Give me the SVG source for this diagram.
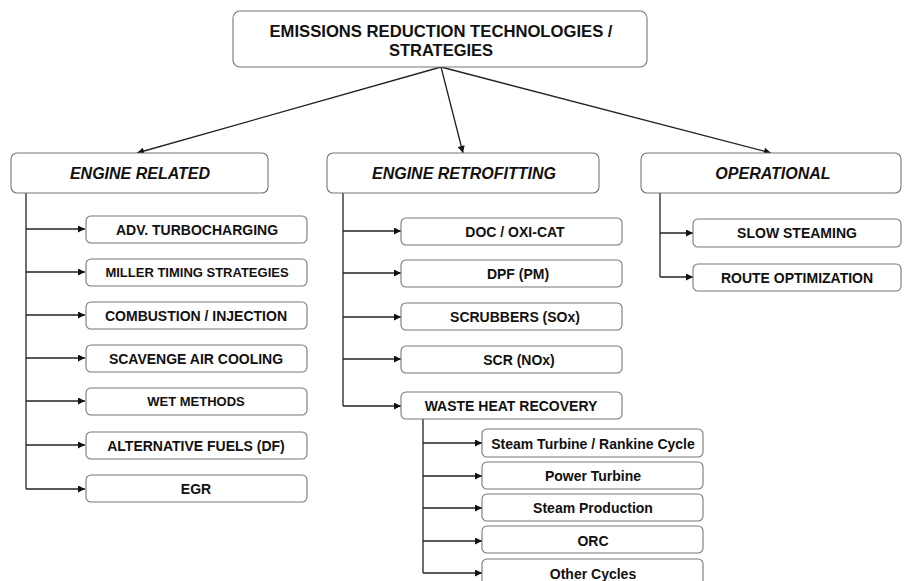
<svg xmlns="http://www.w3.org/2000/svg" width="904" height="581" viewBox="0 0 904 581">
<defs>
<marker id="ah" viewBox="0 0 10 10" refX="10" refY="5" markerWidth="8" markerHeight="7" markerUnits="userSpaceOnUse" orient="auto">
<path d="M0,0 L10,5 L0,10 z" fill="#111"/>
</marker>
</defs>
<style>
.box{fill:#fff;stroke:#777;stroke-width:1.1}
.t{font-family:"Liberation Sans",Arial,sans-serif;font-weight:bold;fill:#111;text-anchor:middle;dominant-baseline:central}
.h{font-size:16px;font-style:italic}
.s{font-size:14px}
.s13{font-size:13px}
.c{fill:none;stroke:#222;stroke-width:1.3}
.ca{fill:none;stroke:#222;stroke-width:1.3;marker-end:url(#ah)}
</style>
<rect width="904" height="581" fill="#fff"/>
<g id="connectors">
<line class="ca" x1="441" y1="67" x2="137" y2="153"/>
<line class="ca" x1="441" y1="67" x2="463" y2="153"/>
<line class="ca" x1="441" y1="67" x2="771" y2="153"/>
<polyline class="c" points="26,193 26,489"/>
<line class="ca" x1="26" y1="229" x2="85" y2="229"/>
<line class="ca" x1="26" y1="272" x2="85" y2="272"/>
<line class="ca" x1="26" y1="315" x2="85" y2="315"/>
<line class="ca" x1="26" y1="358" x2="85" y2="358"/>
<line class="ca" x1="26" y1="401" x2="85" y2="401"/>
<line class="ca" x1="26" y1="445" x2="85" y2="445"/>
<line class="ca" x1="26" y1="489" x2="85" y2="489"/>
<polyline class="c" points="343,193 343,406"/>
<line class="ca" x1="343" y1="231" x2="401" y2="231"/>
<line class="ca" x1="343" y1="273" x2="401" y2="273"/>
<line class="ca" x1="343" y1="317" x2="401" y2="317"/>
<line class="ca" x1="343" y1="359" x2="401" y2="359"/>
<line class="ca" x1="343" y1="406" x2="401" y2="406"/>
<polyline class="c" points="423,419 423,573"/>
<line class="ca" x1="423" y1="443" x2="482" y2="443"/>
<line class="ca" x1="423" y1="476" x2="482" y2="476"/>
<line class="ca" x1="423" y1="508" x2="482" y2="508"/>
<line class="ca" x1="423" y1="541" x2="482" y2="541"/>
<line class="ca" x1="423" y1="573" x2="482" y2="573"/>
<polyline class="c" points="660,193 660,277"/>
<line class="ca" x1="660" y1="233" x2="693" y2="233"/>
<line class="ca" x1="660" y1="277" x2="693" y2="277"/>
</g>
<g id="root"><rect class="box" x="233" y="11" width="414" height="56" rx="7"/>
<text class="t" x="441" y="31" font-size="16.5" textLength="343" lengthAdjust="spacingAndGlyphs">EMISSIONS REDUCTION TECHNOLOGIES /</text>
<text class="t" x="441" y="50" font-size="16.5">STRATEGIES</text></g>
<g id="engine-related"><rect class="box" x="11" y="153" width="257" height="40" rx="6"/><text class="t h" x="140" y="173">ENGINE RELATED</text></g>
<g id="engine-retrofitting"><rect class="box" x="327" y="153" width="272" height="40" rx="6"/><text class="t h" x="464" y="173">ENGINE RETROFITTING</text></g>
<g id="operational"><rect class="box" x="641" y="153" width="260" height="40" rx="6"/><text class="t h" x="773" y="173">OPERATIONAL</text></g>
<g id="adv"><rect class="box" x="86" y="216" width="221" height="27" rx="5"/><text class="t s" x="197" y="229.5">ADV. TURBOCHARGING</text></g>
<g id="miller"><rect class="box" x="86" y="259" width="221" height="27" rx="5"/><text class="t s13" x="197" y="272.5">MILLER TIMING STRATEGIES</text></g>
<g id="combustion"><rect class="box" x="86" y="302" width="221" height="27" rx="5"/><text class="t s" x="196" y="315.5">COMBUSTION / INJECTION</text></g>
<g id="scavenge"><rect class="box" x="86" y="345" width="221" height="27" rx="5"/><text class="t s" x="196" y="358.5">SCAVENGE AIR COOLING</text></g>
<g id="wet"><rect class="box" x="86" y="388" width="221" height="27" rx="5"/><text class="t s13" x="196" y="401.5">WET METHODS</text></g>
<g id="altfuels"><rect class="box" x="86" y="432" width="221" height="27" rx="5"/><text class="t s" x="196" y="445.5">ALTERNATIVE FUELS (DF)</text></g>
<g id="egr"><rect class="box" x="86" y="475" width="221" height="27" rx="5"/><text class="t s" x="196" y="488.5">EGR</text></g>
<g id="doc"><rect class="box" x="401" y="218" width="221" height="27" rx="5"/><text class="t s" x="515" y="231.5">DOC / OXI-CAT</text></g>
<g id="dpf"><rect class="box" x="401" y="260" width="221" height="27" rx="5"/><text class="t s" x="518" y="273.5">DPF (PM)</text></g>
<g id="scrubbers"><rect class="box" x="401" y="303" width="221" height="27" rx="5"/><text class="t s" x="515" y="316.5">SCRUBBERS (SOx)</text></g>
<g id="scr"><rect class="box" x="401" y="346" width="221" height="27" rx="5"/><text class="t s" x="519" y="359.5">SCR (NOx)</text></g>
<g id="whr"><rect class="box" x="401" y="392" width="221" height="27" rx="5"/><text class="t s" x="511" y="405.5">WASTE HEAT RECOVERY</text></g>
<g id="steam-turbine"><rect class="box" x="482" y="429" width="221" height="28" rx="5"/><text class="t s" x="593" y="443.5">Steam Turbine / Rankine Cycle</text></g>
<g id="power-turbine"><rect class="box" x="482" y="462" width="221" height="27" rx="5"/><text class="t s" x="593" y="476">Power Turbine</text></g>
<g id="steam-production"><rect class="box" x="482" y="494" width="221" height="27" rx="5"/><text class="t s" x="593" y="508">Steam Production</text></g>
<g id="orc"><rect class="box" x="482" y="526" width="221" height="27" rx="5"/><text class="t s" x="593" y="540.5">ORC</text></g>
<g id="other-cycles"><rect class="box" x="482" y="559" width="221" height="28" rx="5"/><text class="t s" x="593" y="574">Other Cycles</text></g>
<g id="slow-steaming"><rect class="box" x="693" y="219" width="208" height="28" rx="5"/><text class="t s" x="797" y="233">SLOW STEAMING</text></g>
<g id="route-optimization"><rect class="box" x="693" y="264" width="208" height="27" rx="5"/><text class="t s" x="797" y="277.5">ROUTE OPTIMIZATION</text></g>
</svg>
